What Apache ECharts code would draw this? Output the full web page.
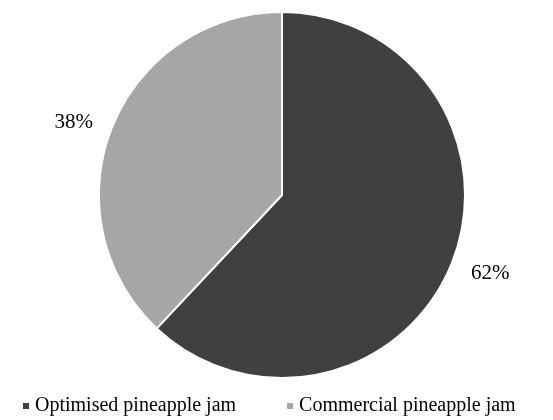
<!DOCTYPE html>
<html><head><meta charset="utf-8">
<script src="https://cdn.jsdelivr.net/npm/echarts@6/dist/echarts.min.js"></script>
<style>html,body{margin:0;padding:0;background:#fff}#c{width:553px;height:420px}</style>
</head><body><div id="c"></div>
<script>
const categories = ["Optimised pineapple jam", "Commercial pineapple jam"];
const values = [62, 38];
const colors = ["#404040", "#a6a6a6"];
const labelLen = [29, 15];
const labelGap = [-8, 5];

const chart = echarts.init(document.getElementById('c'), null, {renderer: 'canvas'});
chart.setOption({
  animation: false,
  backgroundColor: '#fff',
  textStyle: {fontFamily: 'Liberation Serif'},
  legend: {
    data: categories,
    left: 21, top: 396, padding: 0,
    icon: 'rect', itemWidth: 8, itemHeight: 8, itemGap: 49, itemTextGap: 6,
    textStyle: {fontFamily: 'Liberation Serif', fontSize: 20, color: '#000'}
  },
  series: [{
    type: 'pie',
    center: [282, 195],
    radius: 183,
    startAngle: 90,
    clockwise: true,
    itemStyle: {borderColor: '#fff', borderWidth: 2},
    label: {
      show: true, position: 'outside',
      formatter: p => p.value + '%',
      fontFamily: 'Liberation Serif', fontSize: 21, color: '#000'
    },
    labelLine: {show: false},
    emphasis: {disabled: true},
    data: categories.map((n, i) => ({
      name: n, value: values[i],
      itemStyle: {color: colors[i]},
      labelLine: {show: false, length: labelLen[i], length2: 0},
      label: {distanceToLabelLine: labelGap[i]}
    }))
  }]
});
</script></body></html>
